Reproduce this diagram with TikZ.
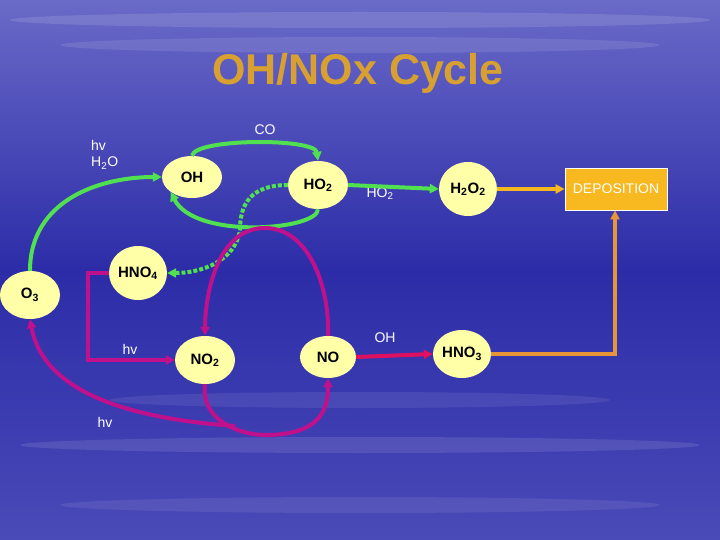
\documentclass[tikz,border=0pt]{standalone}
\usepackage{fontspec}
\setmainfont{Liberation Sans}
\usetikzlibrary{shapes.geometric,arrows.meta}
\definecolor{bgtop}{HTML}{6A6AC8}
\definecolor{bgmid}{HTML}{2C2CA8}
\definecolor{bgbot}{HTML}{4A4AB8}
\definecolor{nodey}{HTML}{FFFFA8}
\definecolor{grn}{HTML}{50E050}
\definecolor{mag}{HTML}{C0108C}
\definecolor{crim}{HTML}{E01060}
\definecolor{org1}{HTML}{F8B820}
\definecolor{org2}{HTML}{E89438}
\definecolor{titlec}{HTML}{D8A030}
\newcommand{\sbs}[1]{\textsubscript{#1}}
\tikzset{
  sp/.style={ellipse,fill=nodey,inner sep=0pt,font=\bfseries\fontsize{15}{17}\selectfont,text=black},
  lab/.style={text=white,font=\fontsize{14}{16}\selectfont,align=left,inner sep=1pt},
  ga/.style={grn,line width=4pt,-{Triangle[length=9pt,width=9pt]}},
  ma/.style={mag,line width=4pt,-{Triangle[length=9pt,width=9pt]}},
}
\begin{document}
\begin{tikzpicture}[x=1pt,y=-1pt]
\useasboundingbox (0,0) rectangle (720,540);
\shade[top color=bgtop,bottom color=bgmid] (0,0) rectangle (720,270);
\shade[top color=bgmid,bottom color=bgbot] (0,270) rectangle (720,540);
\foreach \y/\w/\o in {20/700/0.12,45/600/0.1,400/500/0.08,445/680/0.1,505/600/0.08}
  \fill[white,opacity=\o] (360,\y) ellipse ({\w/2} and 8);
\node (title) [text=titlec,font=\bfseries\fontsize{43}{48}\selectfont] at (358,73) {OH/NOx Cycle};
\node[sp,minimum width=60pt,minimum height=42pt] (OH) at (192,177) {OH};
\node[sp,minimum width=60pt,minimum height=48pt] (HO2) at (318,185) {HO\sbs{2}};
\node[sp,minimum width=58pt,minimum height=54pt] (HNO4) at (138,273) {HNO\sbs{4}};
\node[sp,minimum width=60pt,minimum height=48pt] (O3) at (30,295) {O\sbs{3}};
\node[sp,minimum width=60pt,minimum height=48pt] (NO2) at (205,360) {NO\sbs{2}};
\node[sp,minimum width=56pt,minimum height=42pt] (NO) at (328,357) {NO};
\node[sp,minimum width=58pt,minimum height=54pt] (H2O2) at (468,189) {H\sbs{2}O\sbs{2}};
\node[sp,minimum width=58pt,minimum height=48pt] (HNO3) at (462,354) {HNO\sbs{3}};
\node[draw=white,fill=org1,line width=0.8pt,text=white,font=\fontsize{14}{16}\selectfont,minimum width=102pt,minimum height=42pt,inner sep=0pt] (DEP) at (616,189) {DEPOSITION};
\node[lab] (co) at (265,130) {CO};
\node[lab,anchor=west] (hvh) at (90,155) {hv\\H\sbs{2}O};
\node[lab] (ho2l) at (380,194) {HO\sbs{2}};
\node[lab] (ohl) at (385,338) {OH};
\node[lab] (hv1) at (130,349) {hv};
\node[lab] (hv2) at (105,422) {hv};
\coordinate (c1) at (88,273);
\coordinate (c2) at (88,360);
\coordinate (c3) at (615,354);
\coordinate (mstart) at (235,426);
% green
\draw[ga] (O3.north) .. controls (30,200) and (100,177) .. (OH.west);
\draw[ga] (OH.north) .. controls (195,138) and (315,138) .. (HO2.north);
\draw[ga] (HO2.south) .. controls (318,230) and (195,240) .. (OH.south west);
\draw[grn,line width=4pt,dotted,-{Triangle[length=9pt,width=9pt]}] (HO2.west) .. controls (250,185) and (240,205) .. (240,230) .. controls (235,262) and (200,273) .. (HNO4.east);
\draw[ga] (HO2.east) -- (H2O2.west);
% magenta
\draw[ma] (HNO4.west) -- (c1) -- (c2) -- (NO2.west);
\draw[ma] (NO.north) .. controls (330,290) and (310,228) .. (265,228) .. controls (215,228) and (205,300) .. (NO2.north);
\draw[ma] (NO2.south) .. controls (200,420) and (240,435) .. (265,435) .. controls (320,435) and (328,410) .. (NO.south);
\draw[ma] (mstart) .. controls (150,420) and (45,400) .. (O3.south);
\draw[crim,line width=4pt,-{Triangle[length=9pt,width=9pt]}] (NO.east) -- (HNO3.west);
% orange
\draw[org1,line width=4pt,-{Triangle[length=9pt,width=9pt]}] (H2O2.east) -- (DEP.west);
\draw[org2,line width=4pt,-{Triangle[length=9pt,width=9pt]}] (HNO3.east) -- (c3) -- (DEP.south -| c3);
\end{tikzpicture}
\end{document}
